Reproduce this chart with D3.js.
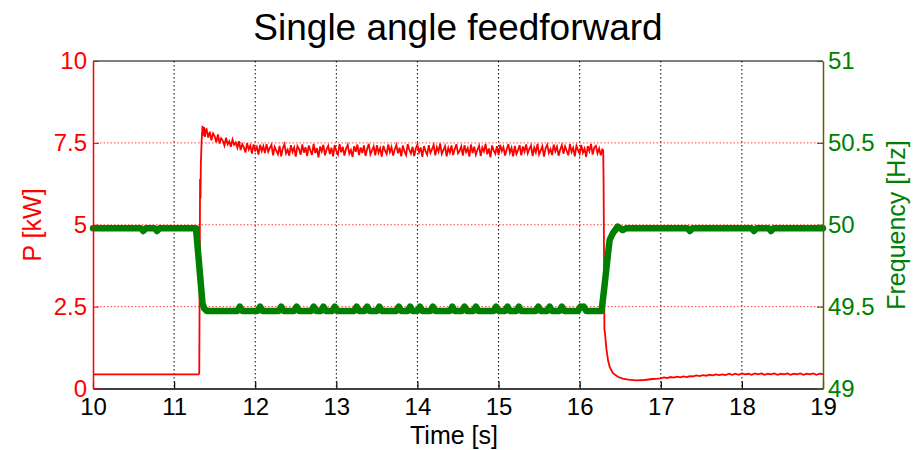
<!DOCTYPE html>
<html>
<head>
<meta charset="utf-8">
<script src="https://cdn.jsdelivr.net/npm/d3@7"></script>
<style>
  body { margin: 0; background: #fff; }
  svg text { font-family: "Liberation Sans", Arial, sans-serif; }
</style>
</head>
<body>
<svg id="chart" width="920" height="450"></svg>
<script>
// axis ticks
const timeTicks = [10, 11, 12, 13, 14, 15, 16, 17, 18, 19];
const powerTicks = [0, 2.5, 5, 7.5, 10];
const freqTicks = [49, 49.5, 50, 50.5, 51];

// P [kW] - step up at ~11.3 s
const powerLead = [[10.00, 0.43], [11.30, 0.43], [11.31, 0.46], [11.315, 3.1], [11.32, 6.4],
    [11.325, 5.8], [11.33, 6.9], [11.34, 7.6], [11.35, 8.02], [11.36, 7.72], [11.37, 7.98],
    [11.38, 7.68], [11.39, 7.90]];

// noisy plateau, sampled every 20 ms from 11.40 s
const powerNoiseStart = 11.40, powerNoiseStep = 0.02;
const powerNoise = [
    7.92, 7.66, 7.84, 7.58, 7.79, 7.70, 7.52, 7.76, 7.48, 7.64, 7.57, 7.42, 7.66, 7.46, 7.55, 7.38, 7.60, 7.44, 7.51, 7.35,
    7.55, 7.28, 7.46, 7.36, 7.21, 7.49, 7.30, 7.42, 7.17, 7.45, 7.27, 7.38, 7.14, 7.44, 7.25, 7.40, 7.19, 7.46, 7.23, 7.35,
    7.44, 7.12, 7.38, 7.26, 7.15, 7.41, 7.09, 7.33, 7.46, 7.18, 7.29, 7.11, 7.43, 7.22, 7.36, 7.08, 7.40, 7.31, 7.14, 7.45,
    7.20, 7.37, 7.10, 7.42, 7.27, 7.13, 7.47, 7.19, 7.34, 7.06, 7.39, 7.24, 7.44, 7.12, 7.30, 7.41, 7.16, 7.35, 7.09, 7.43,
    7.25, 7.14, 7.46, 7.21, 7.38, 7.11, 7.32, 7.44, 7.17, 7.28, 7.07, 7.40, 7.23, 7.45, 7.13, 7.36, 7.19, 7.42, 7.10, 7.31,
    7.47, 7.15, 7.27, 7.39, 7.12, 7.43, 7.20, 7.34, 7.08, 7.41, 7.26, 7.16, 7.45, 7.22, 7.37, 7.11, 7.30, 7.44, 7.18, 7.35,
    7.09, 7.42, 7.24, 7.13, 7.46, 7.29, 7.17, 7.38, 7.10, 7.33, 7.45, 7.21, 7.36, 7.07, 7.40, 7.25, 7.14, 7.43, 7.19, 7.31,
    7.44, 7.12, 7.37, 7.23, 7.48, 7.16, 7.28, 7.40, 7.09, 7.35, 7.20, 7.42, 7.13, 7.31, 7.46, 7.18, 7.26, 7.39, 7.11, 7.43,
    7.22, 7.34, 7.08, 7.45, 7.19, 7.38, 7.14, 7.29, 7.41, 7.10, 7.36, 7.24, 7.47, 7.15, 7.33, 7.06, 7.42, 7.27, 7.17, 7.40,
    7.13, 7.44, 7.25, 7.37, 7.11, 7.30, 7.46, 7.20, 7.35, 7.09, 7.41, 7.16, 7.28, 7.43, 7.12, 7.39, 7.23, 7.45, 7.18, 7.32,
    7.42, 7.10, 7.36, 7.21, 7.47, 7.15, 7.27, 7.40, 7.08, 7.34, 7.44, 7.19, 7.31, 7.13, 7.45, 7.24, 7.38, 7.11, 7.29, 7.43,
    7.17, 7.39, 7.26, 7.12, 7.46, 7.22, 7.35, 7.09, 7.41, 7.28, 7.16, 7.44, 7.20, 7.33, 7.07, 7.40, 7.25, 7.47, 7.14, 7.36,
    7.41, 7.18, 7.33, 7.12, 7.30
];

// step down at ~16.3 s and undershoot
const powerTail = [[16.29, 7.28], [16.295, 6.3], [16.30, 4.1], [16.305, 1.8], [16.31, 1.74],
    [16.33, 1.20], [16.35, 0.86], [16.37, 0.66], [16.41, 0.47], [16.47, 0.36], [16.53, 0.30],
    [16.60, 0.27], [16.70, 0.25], [16.80, 0.26], [16.90, 0.29], [16.96, 0.30]];

// slow recovery, sampled every 40 ms from 17.00 s
const tailNoiseStart = 17.00, tailNoiseStep = 0.04;
const tailNoise = [
    0.31, 0.34, 0.32, 0.35, 0.33, 0.36, 0.34, 0.37, 0.35, 0.38,
    0.37, 0.40, 0.38, 0.41, 0.39, 0.42, 0.40, 0.43, 0.41, 0.43,
    0.41, 0.45, 0.42, 0.45, 0.42, 0.46, 0.43, 0.45, 0.42, 0.46,
    0.43, 0.46, 0.42, 0.45, 0.43, 0.46, 0.42, 0.45, 0.43, 0.46,
    0.42, 0.45, 0.43, 0.46, 0.42, 0.45, 0.43, 0.46, 0.42, 0.45,
    0.44
];

// Frequency [Hz]
const freqPoints = [
    [10.00, 49.978], [10.59, 49.978], [10.62, 49.962], [10.65, 49.978],
    [10.76, 49.978], [10.79, 49.962], [10.82, 49.978],
    [11.27, 49.978], [11.35, 49.52], [11.37, 49.49], [11.40, 49.474],
    [11.78, 49.474], [11.81, 49.5], [11.84, 49.474],
    [12.03, 49.474], [12.06, 49.5], [12.09, 49.474],
    [12.29, 49.474], [12.32, 49.5], [12.35, 49.474],
    [12.48, 49.474], [12.51, 49.5], [12.54, 49.474],
    [12.69, 49.474], [12.72, 49.5], [12.75, 49.474],
    [12.81, 49.474], [12.84, 49.5], [12.87, 49.474],
    [12.95, 49.474], [12.98, 49.5], [13.01, 49.474],
    [13.22, 49.474], [13.25, 49.5], [13.28, 49.474],
    [13.35, 49.474], [13.38, 49.5], [13.41, 49.474],
    [13.50, 49.474], [13.53, 49.5], [13.56, 49.474],
    [13.74, 49.474], [13.77, 49.5], [13.80, 49.474],
    [13.88, 49.474], [13.91, 49.5], [13.94, 49.474],
    [14.00, 49.474], [14.03, 49.5], [14.06, 49.474],
    [14.16, 49.474], [14.19, 49.5], [14.22, 49.474],
    [14.40, 49.474], [14.43, 49.5], [14.46, 49.474],
    [14.55, 49.474], [14.58, 49.5], [14.61, 49.474],
    [14.69, 49.474], [14.72, 49.5], [14.75, 49.474],
    [14.94, 49.474], [14.97, 49.5], [15.00, 49.474],
    [15.08, 49.474], [15.11, 49.5], [15.14, 49.474],
    [15.22, 49.474], [15.25, 49.5], [15.28, 49.474],
    [15.46, 49.474], [15.49, 49.5], [15.52, 49.474],
    [15.60, 49.474], [15.63, 49.5], [15.66, 49.474],
    [15.75, 49.474], [15.78, 49.5], [15.81, 49.474],
    [15.98, 49.474], [16.01, 49.5], [16.03, 49.496], [16.05, 49.5], [16.08, 49.474],
    [16.27, 49.474], [16.31, 49.643], [16.35, 49.826], [16.37, 49.908], [16.41, 49.949],
    [16.47, 49.989], [16.53, 49.968], [16.57, 49.978],
    [17.33, 49.978], [17.36, 49.962], [17.39, 49.978],
    [18.12, 49.978], [18.15, 49.962], [18.18, 49.978],
    [18.33, 49.978], [18.36, 49.962], [18.39, 49.978],
    [19.00, 49.978]
];

const svg = d3.select('#chart');
const margin = {left: 93, right: 823, top: 61, bottom: 388.5};

const x = d3.scaleLinear().domain([10, 19]).range([margin.left, margin.right]);
const yP = d3.scaleLinear().domain([0, 10]).range([margin.bottom, margin.top]);
const yF = d3.scaleLinear().domain([49, 51]).range([margin.bottom, margin.top]);

const redC = '#ff0000';
const greenC = '#008000';
const oliveC = '#5a6000';

svg.append('rect').attr('width', 920).attr('height', 450).attr('fill', '#fff');

// grid
svg.append('g').selectAll('line')
    .data(timeTicks.slice(1, -1))
    .enter().append('line')
    .attr('x1', d => x(d)).attr('x2', d => x(d))
    .attr('y1', margin.top).attr('y2', margin.bottom)
    .attr('stroke', '#000').attr('stroke-width', 1)
    .attr('stroke-dasharray', '1.5,2.5');

svg.append('g').selectAll('line')
    .data(powerTicks.slice(1, -1))
    .enter().append('line')
    .attr('x1', margin.left).attr('x2', margin.right)
    .attr('y1', d => yP(d)).attr('y2', d => yP(d))
    .attr('stroke', '#ff4040').attr('stroke-width', 1)
    .attr('stroke-dasharray', '1.5,2');

// series
const powerSeries = powerLead.concat(
    powerNoise.map((v, i) => [powerNoiseStart + i * powerNoiseStep, v]),
    powerTail,
    tailNoise.map((v, i) => [tailNoiseStart + i * tailNoiseStep, v])
);

const pLine = d3.line().x(d => x(d[0])).y(d => yP(d[1]));
const fLine = d3.line().x(d => x(d[0])).y(d => yF(d[1]));

svg.append('path')
    .datum(powerSeries)
    .attr('d', pLine)
    .attr('fill', 'none')
    .attr('stroke', redC)
    .attr('stroke-width', 1.8);

svg.append('path')
    .datum(freqPoints)
    .attr('d', fLine)
    .attr('fill', 'none')
    .attr('stroke', greenC)
    .attr('stroke-width', 6.5)
    .attr('stroke-linejoin', 'round')
    .attr('stroke-linecap', 'round');

// axes
const tickFont = 24;
const plain = d => String(d);

const bottomAxis = svg.append('g')
    .attr('transform', 'translate(0,' + margin.bottom + ')')
    .call(d3.axisBottom(x).tickValues(timeTicks).tickFormat(plain)
        .tickSizeInner(-7).tickSizeOuter(0).tickPadding(9));
bottomAxis.select('.domain').attr('stroke', '#000').attr('stroke-width', 1.5);
bottomAxis.selectAll('.tick line').attr('stroke', '#000').attr('stroke-width', 1.2);
bottomAxis.selectAll('.tick text').attr('fill', '#000').attr('font-size', tickFont).attr('font-family', null);

svg.append('line')
    .attr('x1', margin.left).attr('x2', margin.right)
    .attr('y1', margin.top).attr('y2', margin.top)
    .attr('stroke', '#000').attr('stroke-width', 1.2);

const leftAxis = svg.append('g')
    .attr('transform', 'translate(' + margin.left + ',0)')
    .call(d3.axisLeft(yP).tickValues(powerTicks).tickFormat(plain)
        .tickSizeInner(-6).tickSizeOuter(0).tickPadding(6));
leftAxis.select('.domain').attr('stroke', redC).attr('stroke-width', 1.5);
leftAxis.selectAll('.tick line').attr('stroke', redC);
leftAxis.selectAll('.tick text').attr('fill', redC).attr('font-size', tickFont).attr('font-family', null);

const rightAxis = svg.append('g')
    .attr('transform', 'translate(' + margin.right + ',0)')
    .call(d3.axisRight(yF).tickValues(freqTicks).tickFormat(plain)
        .tickSizeInner(-6).tickSizeOuter(0).tickPadding(5));
rightAxis.select('.domain').attr('stroke', oliveC).attr('stroke-width', 1.5);
rightAxis.selectAll('.tick line').attr('stroke', oliveC).attr('stroke-width', 1.2);
rightAxis.selectAll('.tick text').attr('fill', greenC).attr('font-size', tickFont).attr('font-family', null);

// labels
svg.append('text')
    .attr('x', 458).attr('y', 40)
    .attr('text-anchor', 'middle')
    .attr('font-size', 37)
    .text('Single angle feedforward');

svg.append('text')
    .attr('x', 454).attr('y', 444)
    .attr('text-anchor', 'middle')
    .attr('font-size', 25)
    .text('Time [s]');

svg.append('text')
    .attr('transform', 'translate(41,225) rotate(-90)')
    .attr('text-anchor', 'middle')
    .attr('font-size', 25)
    .attr('fill', redC)
    .text('P [kW]');

svg.append('text')
    .attr('transform', 'translate(905,225) rotate(-90)')
    .attr('text-anchor', 'middle')
    .attr('font-size', 25)
    .attr('fill', greenC)
    .text('Frequency [Hz]');
</script>
</body>
</html>
